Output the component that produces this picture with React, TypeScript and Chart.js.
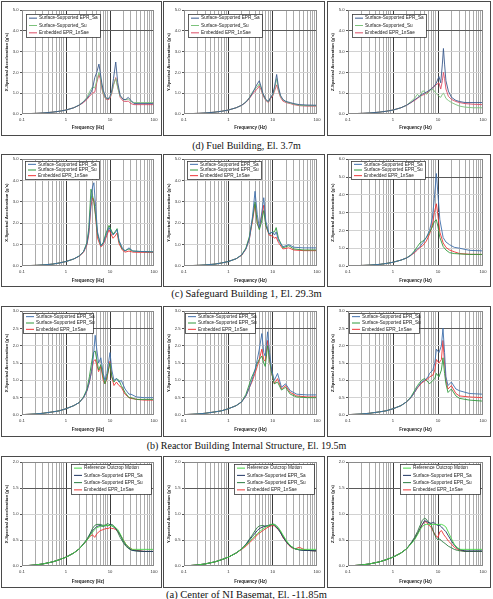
import React, { useEffect, useRef } from 'react';
import { Chart, registerables } from 'chart.js';

Chart.register(...registerables);

const FONT = '"Liberation Sans", Arial, Helvetica, sans-serif';

// ---------- axis ticks ----------
const X_TICKS = [0.1, 0.2, 0.3, 0.4, 0.5, 0.6, 0.7, 0.8, 0.9, 1, 2, 3, 4, 5, 6, 7, 8, 9, 10, 20, 30, 40, 50, 60, 70, 80, 90, 100];
const X_LABELED = [0.1, 1, 10, 100];

// ---------- legend labels ----------
const LABELS_D = ['Surface-Supported EPR_Sa', 'Surface-Supported_Su', 'Embedded EPR_1nSae'];
const LABELS_BC = ['Surface-Supported EPR_Sa', 'Surface-Supported EPR_Su', 'Embedded EPR_1nSae'];
const LABELS_A = ['Reference Outcrop Motion', 'Surface-Supported EPR_Sa', 'Surface-Supported EPR_Su', 'Embedded EPR_1nSae'];

const CAPTIONS = [
  '(d) Fuel Building, El. 3.7m',
  '(c) Safeguard Building 1, El. 29.3m',
  '(b) Reactor Building Internal Structure, El. 19.5m',
  '(a) Center of NI Basemat, El. -11.85m',
];

// ---------- (d) Fuel Building ----------
const FUEL_X_FREQ = [0.1, 0.2, 0.3, 0.5, 0.7, 1, 1.5, 2, 2.5, 3, 3.5, 4, 4.5, 5, 5.6, 6, 6.5, 7, 8, 9, 10, 11, 12, 13.5, 15, 17, 20, 23, 26, 30, 35, 50, 100];
const FUEL_X_SA = [0.01, 0.03, 0.05, 0.09, 0.13, 0.19, 0.3, 0.43, 0.58, 0.75, 0.95, 1.2, 1.75, 2.0, 2.4, 2.0, 1.5, 1.15, 0.8, 0.72, 0.85, 1.15, 1.7, 2.5, 1.5, 0.9, 0.7, 0.7, 0.8, 0.65, 0.5, 0.5, 0.5];
const FUEL_X_SU = [0.01, 0.03, 0.05, 0.09, 0.13, 0.19, 0.3, 0.43, 0.6, 0.8, 1.1, 1.3, 1.25, 1.6, 2.0, 1.8, 1.35, 1.0, 0.75, 0.72, 0.8, 1.05, 1.4, 1.7, 1.25, 0.85, 0.7, 0.68, 0.72, 0.6, 0.55, 0.55, 0.55];
const FUEL_X_EMB = [0.01, 0.03, 0.05, 0.09, 0.13, 0.19, 0.3, 0.42, 0.55, 0.7, 0.88, 1.0, 1.05, 1.5, 1.9, 1.7, 1.25, 0.95, 0.72, 0.68, 0.75, 1.0, 1.4, 1.75, 1.3, 0.8, 0.62, 0.6, 0.62, 0.5, 0.45, 0.45, 0.45];

const FUEL_Y_FREQ = [0.1, 0.2, 0.3, 0.5, 0.7, 1, 1.5, 2, 2.5, 3, 3.5, 4, 4.5, 5, 5.5, 6, 7, 8, 9, 10, 11, 12.3, 13.5, 15, 17, 20, 25, 30, 40, 60, 100];
const FUEL_Y_SA = [0.01, 0.03, 0.05, 0.09, 0.13, 0.19, 0.3, 0.42, 0.58, 0.78, 1.0, 1.25, 1.45, 1.6, 1.3, 1.0, 0.7, 0.6, 0.8, 0.95, 1.3, 1.9, 1.3, 0.9, 0.7, 0.6, 0.55, 0.5, 0.45, 0.43, 0.42];
const FUEL_Y_SU = [0.01, 0.03, 0.05, 0.09, 0.13, 0.19, 0.3, 0.42, 0.58, 0.8, 1.05, 1.2, 1.3, 1.45, 1.25, 0.95, 0.68, 0.58, 0.8, 0.9, 1.2, 1.7, 1.2, 0.85, 0.68, 0.58, 0.52, 0.48, 0.42, 0.4, 0.4];
const FUEL_Y_EMB = [0.01, 0.03, 0.05, 0.09, 0.13, 0.19, 0.3, 0.42, 0.56, 0.75, 0.95, 1.1, 1.2, 1.35, 1.15, 0.9, 0.65, 0.55, 0.75, 0.85, 1.1, 1.4, 1.1, 0.8, 0.62, 0.55, 0.5, 0.45, 0.4, 0.38, 0.38];

const FUEL_Z_FREQ = [0.1, 0.2, 0.3, 0.5, 0.7, 1, 1.5, 2, 2.5, 3, 3.5, 4, 4.5, 5, 5.5, 6, 7, 8, 9, 10.5, 11.5, 12.5, 13.2, 14, 15, 17, 20, 25, 30, 40, 60, 100];
const FUEL_Z_SA = [0.01, 0.03, 0.05, 0.09, 0.13, 0.19, 0.3, 0.42, 0.55, 0.68, 0.78, 0.88, 0.95, 1.0, 1.05, 1.1, 1.2, 1.3, 1.45, 1.8, 1.5, 2.4, 3.15, 2.4, 1.6, 1.1, 0.8, 0.65, 0.6, 0.55, 0.55, 0.55];
const FUEL_Z_SU = [0.01, 0.03, 0.05, 0.09, 0.13, 0.19, 0.3, 0.42, 0.6, 0.75, 0.95, 0.8, 1.1, 1.1, 0.95, 1.0, 1.2, 1.15, 1.0, 0.85, 0.8, 0.95, 1.0, 0.9, 0.75, 0.65, 0.55, 0.45, 0.38, 0.33, 0.3, 0.3];
const FUEL_Z_EMB = [0.01, 0.03, 0.05, 0.09, 0.13, 0.19, 0.3, 0.42, 0.55, 0.65, 0.75, 0.85, 0.9, 0.95, 1.0, 1.05, 1.2, 1.3, 1.4, 1.5, 1.2, 1.6, 2.0, 1.7, 1.2, 0.85, 0.7, 0.6, 0.55, 0.5, 0.47, 0.45];

// ---------- (c) Safeguard Building 1 ----------
const SAFE_X_FREQ = [0.1, 0.2, 0.3, 0.5, 0.7, 1, 1.5, 2, 2.5, 3, 3.3, 3.7, 4.0, 4.3, 4.7, 5.2, 6.2, 7, 8, 9.5, 11.7, 13, 14.5, 16, 19, 22, 27, 33, 50, 100];
const SAFE_X_SA = [0.01, 0.03, 0.05, 0.09, 0.14, 0.21, 0.33, 0.47, 0.66, 1.05, 1.6, 3.0, 3.7, 3.9, 2.8, 1.6, 0.95, 1.05, 1.4, 1.8, 1.45, 1.55, 1.7, 1.2, 0.85, 0.7, 0.85, 0.7, 0.68, 0.66];
const SAFE_X_SU = [0.01, 0.03, 0.05, 0.09, 0.14, 0.21, 0.33, 0.47, 0.68, 1.1, 1.8, 3.6, 3.3, 3.0, 2.4, 1.5, 0.95, 1.1, 1.5, 1.9, 1.5, 1.6, 1.75, 1.15, 0.8, 0.72, 0.8, 0.7, 0.68, 0.66];
const SAFE_X_EMB = [0.01, 0.03, 0.05, 0.09, 0.14, 0.21, 0.33, 0.46, 0.64, 1.0, 1.5, 2.8, 3.2, 3.1, 2.3, 1.3, 0.9, 1.0, 1.3, 1.7, 1.3, 1.4, 1.55, 1.05, 0.75, 0.65, 0.7, 0.65, 0.64, 0.64];

const SAFE_Y_FREQ = [0.1, 0.2, 0.3, 0.5, 0.7, 1, 1.5, 2, 2.5, 3, 3.5, 4, 4.5, 5, 5.5, 6.3, 7, 8.3, 10, 11, 12, 13.5, 17, 23, 30, 50, 100];
const SAFE_Y_SA = [0.01, 0.03, 0.05, 0.09, 0.14, 0.21, 0.34, 0.52, 0.8, 1.3, 2.3, 3.5, 2.4, 1.8, 2.3, 3.2, 2.1, 1.5, 1.6, 1.45, 1.6, 1.2, 0.9, 1.0, 0.88, 0.85, 0.85];
const SAFE_Y_SU = [0.01, 0.03, 0.05, 0.09, 0.14, 0.21, 0.34, 0.52, 0.85, 1.4, 2.2, 3.0, 2.0, 1.7, 2.0, 2.6, 1.9, 1.5, 1.6, 1.6, 1.8, 1.3, 0.85, 0.95, 0.8, 0.75, 0.75];
const SAFE_Y_EMB = [0.01, 0.03, 0.05, 0.09, 0.14, 0.21, 0.34, 0.5, 0.8, 1.3, 2.1, 2.9, 2.0, 1.75, 2.2, 2.85, 1.9, 1.45, 1.4, 1.3, 1.35, 1.1, 0.8, 0.85, 0.75, 0.72, 0.72];

const SAFE_Z_FREQ = [0.1, 0.2, 0.3, 0.5, 0.7, 1, 1.5, 2, 2.5, 3, 3.5, 4, 4.6, 5.5, 6.5, 7.5, 8.3, 9.2, 10, 11, 13, 15, 18, 23, 30, 50, 100];
const SAFE_Z_SA = [0.01, 0.03, 0.05, 0.09, 0.14, 0.21, 0.33, 0.45, 0.6, 0.8, 0.95, 1.1, 1.3, 1.6, 2.0, 2.7, 3.8, 5.2, 4.0, 2.6, 1.6, 1.35, 1.2, 1.05, 1.0, 0.88, 0.85];
const SAFE_Z_SU = [0.01, 0.03, 0.05, 0.09, 0.14, 0.21, 0.33, 0.45, 0.62, 0.85, 1.1, 1.3, 1.4, 1.6, 1.9, 2.2, 2.5, 2.6, 2.2, 1.6, 1.1, 0.9, 0.75, 0.7, 0.68, 0.65, 0.65];
const SAFE_Z_EMB = [0.01, 0.03, 0.05, 0.09, 0.14, 0.21, 0.33, 0.45, 0.6, 0.75, 0.9, 1.05, 1.15, 1.4, 1.8, 2.3, 3.0, 3.5, 2.8, 1.9, 1.3, 1.05, 0.9, 0.8, 0.7, 0.66, 0.65];

// ---------- (b) Reactor Building Internal Structure ----------
const RIS_X_FREQ = [0.1, 0.2, 0.3, 0.5, 0.7, 1, 1.5, 2, 2.5, 3, 3.4, 3.8, 4.2, 4.6, 5, 5.5, 6.2, 7, 7.7, 8.5, 10, 11, 12.3, 14, 16, 18, 22, 27, 30, 40, 60, 100];
const RIS_X_SA = [0.01, 0.03, 0.05, 0.09, 0.12, 0.18, 0.27, 0.36, 0.5, 0.7, 0.95, 1.25, 1.7, 2.3, 1.9, 1.5, 1.65, 1.2, 1.0, 1.2, 1.8, 1.3, 1.0, 1.05, 0.95, 1.0, 0.75, 0.6, 0.6, 0.52, 0.5, 0.5];
const RIS_X_SU = [0.01, 0.03, 0.05, 0.09, 0.12, 0.18, 0.27, 0.36, 0.52, 0.75, 1.1, 1.5, 1.8, 1.85, 1.6, 1.3, 1.45, 1.1, 0.9, 1.1, 1.5, 1.1, 0.95, 1.05, 1.0, 0.85, 0.65, 0.5, 0.5, 0.45, 0.45, 0.45];
const RIS_X_EMB = [0.01, 0.03, 0.05, 0.09, 0.12, 0.18, 0.27, 0.36, 0.5, 0.7, 0.95, 1.25, 1.55, 1.6, 1.45, 1.25, 1.4, 1.0, 0.9, 1.05, 1.55, 1.1, 0.85, 0.95, 0.85, 0.8, 0.6, 0.5, 0.48, 0.45, 0.43, 0.43];

const RIS_Y_FREQ = [0.1, 0.2, 0.3, 0.5, 0.7, 1, 1.5, 2, 2.5, 3, 3.4, 4, 4.5, 5, 5.7, 6.3, 6.8, 7.7, 8.5, 9.5, 10.9, 12.9, 15.8, 19.5, 25, 35, 60, 100];
const RIS_Y_SA = [0.01, 0.03, 0.05, 0.09, 0.12, 0.18, 0.27, 0.38, 0.55, 0.8, 1.0, 1.3, 1.6, 1.9, 2.35, 1.8, 1.7, 2.4, 1.8, 1.3, 1.0, 1.2, 0.8, 0.9, 0.7, 0.6, 0.58, 0.58];
const RIS_Y_SU = [0.01, 0.03, 0.05, 0.09, 0.12, 0.18, 0.27, 0.38, 0.6, 0.9, 1.1, 1.3, 1.5, 1.6, 1.7, 1.5, 1.4, 2.0, 1.6, 1.2, 0.9, 0.95, 0.72, 0.8, 0.6, 0.52, 0.5, 0.5];
const RIS_Y_EMB = [0.01, 0.03, 0.05, 0.09, 0.12, 0.18, 0.27, 0.38, 0.55, 0.8, 0.95, 1.2, 1.4, 1.6, 1.9, 1.6, 1.55, 2.15, 1.6, 1.2, 0.9, 1.05, 0.75, 0.85, 0.65, 0.55, 0.52, 0.52];

const RIS_Z_FREQ = [0.1, 0.2, 0.3, 0.5, 0.7, 1, 1.5, 2, 2.5, 3, 3.5, 4.3, 5, 6, 6.5, 7.7, 8.5, 9.2, 10.5, 11.9, 12.9, 14, 15, 16.7, 19.8, 25, 30, 50, 100];
const RIS_Z_SA = [0.01, 0.03, 0.05, 0.09, 0.12, 0.18, 0.27, 0.38, 0.5, 0.65, 0.8, 0.95, 1.0, 1.1, 1.2, 1.3, 1.5, 1.9, 1.8, 2.0, 2.5, 1.8, 1.1, 0.85, 0.95, 0.75, 0.7, 0.62, 0.6];
const RIS_Z_SU = [0.01, 0.03, 0.05, 0.09, 0.12, 0.18, 0.27, 0.38, 0.52, 0.7, 0.85, 1.0, 1.05, 0.95, 0.9, 1.0, 1.05, 1.2, 1.1, 1.3, 1.65, 1.2, 0.9, 0.65, 0.75, 0.55, 0.48, 0.43, 0.4];
const RIS_Z_EMB = [0.01, 0.03, 0.05, 0.09, 0.12, 0.18, 0.27, 0.38, 0.5, 0.65, 0.78, 0.92, 0.98, 1.05, 1.1, 1.15, 1.3, 1.6, 1.5, 1.6, 2.15, 1.5, 1.0, 0.75, 0.85, 0.62, 0.55, 0.52, 0.5];

// ---------- (a) Center of NI Basemat ----------
const BASE_X_FREQ = [0.1, 0.2, 0.3, 0.5, 0.7, 1, 1.5, 2, 2.5, 3, 3.5, 4, 4.5, 5, 6, 7, 8, 9, 10, 11, 12, 13.5, 15, 17, 20, 23, 27, 32, 40, 60, 100];
const BASE_X_REF = [0.0, 0.02, 0.04, 0.08, 0.12, 0.17, 0.25, 0.33, 0.42, 0.5, 0.58, 0.65, 0.7, 0.74, 0.76, 0.77, 0.78, 0.78, 0.78, 0.77, 0.76, 0.74, 0.7, 0.62, 0.5, 0.42, 0.36, 0.32, 0.32, 0.32, 0.32];
const BASE_X_SA = [0.0, 0.02, 0.04, 0.08, 0.12, 0.17, 0.25, 0.33, 0.42, 0.5, 0.6, 0.68, 0.72, 0.76, 0.78, 0.76, 0.78, 0.77, 0.8, 0.78, 0.75, 0.72, 0.68, 0.6, 0.48, 0.4, 0.34, 0.3, 0.29, 0.28, 0.28];
const BASE_X_SU = [0.0, 0.02, 0.04, 0.08, 0.12, 0.17, 0.25, 0.33, 0.43, 0.52, 0.62, 0.72, 0.78, 0.8, 0.8, 0.78, 0.79, 0.82, 0.78, 0.8, 0.78, 0.72, 0.65, 0.55, 0.45, 0.38, 0.33, 0.3, 0.29, 0.28, 0.28];
const BASE_X_EMB = [0.0, 0.02, 0.04, 0.08, 0.12, 0.17, 0.25, 0.33, 0.42, 0.5, 0.57, 0.6, 0.55, 0.62, 0.68, 0.7, 0.72, 0.72, 0.74, 0.72, 0.72, 0.7, 0.66, 0.6, 0.5, 0.42, 0.36, 0.32, 0.3, 0.28, 0.28];

const BASE_Y_FREQ = [0.1, 0.2, 0.3, 0.5, 0.7, 1, 1.5, 2, 2.5, 3, 3.5, 4, 4.5, 5, 6, 7, 8, 9, 10, 11, 12, 13.5, 15, 17, 20, 23, 27, 32, 40, 50, 60, 100];
const BASE_Y_REF = [0.0, 0.02, 0.04, 0.08, 0.12, 0.17, 0.25, 0.33, 0.4, 0.47, 0.53, 0.58, 0.62, 0.66, 0.71, 0.75, 0.78, 0.8, 0.8, 0.79, 0.77, 0.73, 0.68, 0.6, 0.5, 0.43, 0.37, 0.33, 0.32, 0.32, 0.32, 0.32];
const BASE_Y_SA = [0.0, 0.02, 0.04, 0.08, 0.12, 0.17, 0.25, 0.33, 0.41, 0.5, 0.57, 0.63, 0.68, 0.72, 0.75, 0.77, 0.78, 0.79, 0.8, 0.78, 0.75, 0.7, 0.64, 0.56, 0.47, 0.41, 0.36, 0.33, 0.31, 0.3, 0.3, 0.29];
const BASE_Y_SU = [0.0, 0.02, 0.04, 0.08, 0.12, 0.17, 0.25, 0.33, 0.42, 0.52, 0.6, 0.68, 0.74, 0.77, 0.78, 0.76, 0.77, 0.79, 0.81, 0.8, 0.78, 0.73, 0.66, 0.58, 0.48, 0.42, 0.37, 0.33, 0.31, 0.3, 0.3, 0.29];
const BASE_Y_EMB = [0.0, 0.02, 0.04, 0.08, 0.12, 0.17, 0.25, 0.32, 0.38, 0.45, 0.5, 0.55, 0.6, 0.63, 0.68, 0.72, 0.75, 0.77, 0.78, 0.77, 0.74, 0.7, 0.65, 0.55, 0.47, 0.4, 0.35, 0.33, 0.36, 0.32, 0.3, 0.29];

const BASE_Z_FREQ = [0.1, 0.2, 0.3, 0.5, 0.7, 1, 1.5, 2, 2.5, 3, 3.5, 4, 4.5, 5, 5.5, 6, 7, 8, 9, 10, 11, 12, 13.5, 15, 17, 20, 23, 27, 32, 40, 60, 100];
const BASE_Z_REF = [0.0, 0.02, 0.04, 0.08, 0.12, 0.17, 0.25, 0.33, 0.42, 0.5, 0.6, 0.7, 0.76, 0.79, 0.8, 0.8, 0.8, 0.8, 0.8, 0.8, 0.8, 0.8, 0.78, 0.75, 0.65, 0.52, 0.42, 0.35, 0.32, 0.32, 0.32, 0.32];
const BASE_Z_SA = [0.0, 0.02, 0.04, 0.08, 0.12, 0.17, 0.25, 0.33, 0.43, 0.52, 0.62, 0.72, 0.8, 0.87, 0.86, 0.84, 0.82, 0.84, 0.8, 0.78, 0.78, 0.75, 0.7, 0.66, 0.58, 0.48, 0.4, 0.34, 0.31, 0.29, 0.29, 0.29];
const BASE_Z_SU = [0.0, 0.02, 0.04, 0.08, 0.12, 0.17, 0.25, 0.33, 0.44, 0.55, 0.66, 0.78, 0.88, 0.92, 0.9, 0.85, 0.8, 0.65, 0.55, 0.5, 0.52, 0.48, 0.45, 0.42, 0.38, 0.35, 0.32, 0.3, 0.29, 0.28, 0.28, 0.28];
const BASE_Z_EMB = [0.0, 0.02, 0.04, 0.08, 0.12, 0.17, 0.25, 0.33, 0.43, 0.52, 0.62, 0.72, 0.8, 0.85, 0.85, 0.8, 0.75, 0.65, 0.58, 0.55, 0.66, 0.68, 0.6, 0.55, 0.48, 0.42, 0.36, 0.32, 0.3, 0.28, 0.28, 0.28];

// ---------- colours ----------
const C_D = ['#3b5a8c', '#7cc27c', '#dc4d66'];
const C_BC = ['#3f6fab', '#2e9a3c', '#ee3535'];
const C_A = ['#46d846', '#1f3563', '#2a7c40', '#ee3535'];

// ---------- layout ----------
const ROWS = [
  { top: 1, h: 135, inTop: 9, inBot: 22, titleGap: 14, capY: 146, capSize: 10, legend: { side: 'left', dx: 4, dy: 4, w: 74, h: 23 } },
  { top: 154, h: 133, inTop: 5.3, inBot: 21, titleGap: 14.5, capY: 294.5, capSize: 10.5, legend: { side: 'left', dx: 3, dy: 2, w: 74, h: 18 } },
  { top: 306, h: 131, inTop: 4, inBot: 22, titleGap: 14.3, capY: 445.5, capSize: 10, legend: { side: 'left', dx: 1, dy: 2, w: 70, h: 20 } },
  { top: 456, h: 132, inTop: 6, inBot: 22, titleGap: 15.5, capY: 595, capSize: 10.5, legend: { side: 'right', dx: 3, dy: 1.5, w: 80, h: 30 } },
];
const COLS = [
  { left: 1, w: 161, inL: 21, inR: 6 },
  { left: 163, w: 162, inL: 21, inR: 6 },
  { left: 327, w: 164, inL: 21, inR: 8 },
];

type Series = { label: string; color: string; values: number[] };
type Panel = { freq: number[]; series: Series[]; yMax: number; yStep: number; dark: number | null; axis: string };

const mk = (labels: string[], colors: string[], vals: number[][]): Series[] =>
  labels.map((label, i) => ({ label, color: colors[i], values: vals[i] }));

const PANELS: Panel[][] = [
  [
    { freq: FUEL_X_FREQ, series: mk(LABELS_D, C_D, [FUEL_X_SA, FUEL_X_SU, FUEL_X_EMB]), yMax: 5, yStep: 1, dark: 4, axis: 'X' },
    { freq: FUEL_Y_FREQ, series: mk(LABELS_D, C_D, [FUEL_Y_SA, FUEL_Y_SU, FUEL_Y_EMB]), yMax: 5, yStep: 1, dark: 4, axis: 'Y' },
    { freq: FUEL_Z_FREQ, series: mk(LABELS_D, C_D, [FUEL_Z_SA, FUEL_Z_SU, FUEL_Z_EMB]), yMax: 5, yStep: 1, dark: 4, axis: 'Z' },
  ],
  [
    { freq: SAFE_X_FREQ, series: mk(LABELS_BC, C_BC, [SAFE_X_SA, SAFE_X_SU, SAFE_X_EMB]), yMax: 5, yStep: 1, dark: null, axis: 'X' },
    { freq: SAFE_Y_FREQ, series: mk(LABELS_BC, C_BC, [SAFE_Y_SA, SAFE_Y_SU, SAFE_Y_EMB]), yMax: 5, yStep: 1, dark: null, axis: 'Y' },
    { freq: SAFE_Z_FREQ, series: mk(LABELS_BC, C_BC, [SAFE_Z_SA, SAFE_Z_SU, SAFE_Z_EMB]), yMax: 6, yStep: 1, dark: 5, axis: 'Z' },
  ],
  [
    { freq: RIS_X_FREQ, series: mk(LABELS_BC, C_BC, [RIS_X_SA, RIS_X_SU, RIS_X_EMB]), yMax: 3, yStep: 0.5, dark: 2.5, axis: 'X' },
    { freq: RIS_Y_FREQ, series: mk(LABELS_BC, C_BC, [RIS_Y_SA, RIS_Y_SU, RIS_Y_EMB]), yMax: 3, yStep: 0.5, dark: 2.5, axis: 'Y' },
    { freq: RIS_Z_FREQ, series: mk(LABELS_BC, C_BC, [RIS_Z_SA, RIS_Z_SU, RIS_Z_EMB]), yMax: 3, yStep: 0.5, dark: 2.5, axis: 'Z' },
  ],
  [
    { freq: BASE_X_FREQ, series: mk(LABELS_A, C_A, [BASE_X_REF, BASE_X_SA, BASE_X_SU, BASE_X_EMB]), yMax: 2, yStep: 0.5, dark: 1.5, axis: 'X' },
    { freq: BASE_Y_FREQ, series: mk(LABELS_A, C_A, [BASE_Y_REF, BASE_Y_SA, BASE_Y_SU, BASE_Y_EMB]), yMax: 2, yStep: 0.5, dark: 1.5, axis: 'Y' },
    { freq: BASE_Z_FREQ, series: mk(LABELS_A, C_A, [BASE_Z_REF, BASE_Z_SA, BASE_Z_SU, BASE_Z_EMB]), yMax: 2, yStep: 0.5, dark: 1.5, axis: 'Z' },
  ],
];

// frame + boxed legend inside the plot area
const framePlugin = {
  id: 'panelFrame',
  afterDatasetsDraw(chart: any, _args: any, opts: any) {
    const { ctx, chartArea: ca } = chart;
    ctx.save();
    ctx.strokeStyle = '#8a8a8a';
    ctx.lineWidth = 1;
    ctx.strokeRect(Math.round(ca.left) + 0.5, Math.round(ca.top) + 0.5, Math.round(ca.right - ca.left) - 1, Math.round(ca.bottom - ca.top) - 1);

    const lg = opts.legend;
    if (lg) {
      const ds = chart.data.datasets;
      const x = Math.round(lg.side === 'right' ? ca.right - lg.dx - lg.w : ca.left + lg.dx);
      const y = Math.round(ca.top + lg.dy);
      ctx.fillStyle = '#ffffff';
      ctx.fillRect(x, y, lg.w, lg.h);
      ctx.strokeStyle = '#3a3a3a';
      ctx.lineWidth = 0.8;
      ctx.strokeRect(x + 0.5, y + 0.5, lg.w, lg.h);
      ctx.font = `4.7px ${FONT}`;
      ctx.textBaseline = 'middle';
      ctx.textAlign = 'left';
      const step = (lg.h - 1) / ds.length;
      ds.forEach((d: any, i: number) => {
        const cy = y + 0.5 + step * (i + 0.5);
        ctx.strokeStyle = d.borderColor;
        ctx.lineWidth = 1;
        ctx.beginPath();
        ctx.moveTo(x + 3, cy);
        ctx.lineTo(x + 11, cy);
        ctx.stroke();
        ctx.fillStyle = '#222';
        ctx.fillText(d.label, x + 13, cy);
      });
    }
    ctx.restore();
  },
};

function PanelChart({ panel, r, c }: { panel: Panel; r: number; c: number }) {
  const ref = useRef<HTMLCanvasElement>(null);
  const row = ROWS[r];
  const col = COLS[c];
  const cw = col.w - 2;
  const ch = row.h - 2;

  useEffect(() => {
    const xTitleSize = 4.5;
    const xTitlePad = row.inBot - 1 - row.titleGap - (xTitleSize * 1.2) / 2;
    const chart = new Chart(ref.current as HTMLCanvasElement, {
      type: 'line',
      data: {
        datasets: panel.series.map((s) => ({
          label: s.label,
          data: panel.freq.map((f, i) => ({ x: f, y: s.values[i] })),
          borderColor: s.color,
          backgroundColor: s.color,
          borderWidth: 0.9,
          pointRadius: 0,
          tension: 0,
          fill: false,
        })),
      },
      options: {
        responsive: false,
        animation: false,
        devicePixelRatio: 1,
        layout: { padding: { top: row.inTop - 1, right: col.inR - 1, left: 0, bottom: 0 } },
        plugins: {
          legend: { display: false },
          tooltip: { enabled: false },
          panelFrame: { legend: row.legend },
        } as any,
        scales: {
          x: {
            type: 'logarithmic',
            min: 0.1,
            max: 100,
            afterBuildTicks: (s: any) => {
              s.ticks = X_TICKS.map((v) => ({ value: v }));
            },
            afterFit: (s: any) => {
              s.height = row.inBot - 1;
            },
            ticks: {
              autoSkip: false,
              maxRotation: 0,
              minRotation: 0,
              padding: 3.5,
              color: '#333',
              font: { size: 4.2, family: FONT },
              callback: (v: any) => (X_LABELED.includes(Number(v)) ? String(v) : ''),
            },
            grid: {
              drawTicks: false,
              lineWidth: 1,
              color: (ctx: any) => {
                const v = ctx.tick ? ctx.tick.value : null;
                if (v === 0.1 || v === 100) return 'rgba(0,0,0,0)';
                if (v === 1 || v === 10) return '#3c3c3c';
                return '#ababab';
              },
            },
            border: { display: false },
            title: {
              display: true,
              text: 'Frequency (Hz)',
              color: '#222',
              font: { size: xTitleSize, family: FONT, weight: 'bold' },
              padding: { top: 0, bottom: xTitlePad },
            },
          },
          y: {
            type: 'linear',
            min: 0,
            max: panel.yMax,
            afterFit: (s: any) => {
              s.width = col.inL - 1;
            },
            ticks: {
              stepSize: panel.yStep,
              padding: 1.5,
              color: '#333',
              font: { size: 4.2, family: FONT },
              callback: (v: any) => Number(v).toFixed(1),
            },
            grid: {
              drawTicks: true,
              tickLength: 2,
              tickColor: '#555',
              lineWidth: 1,
              color: (ctx: any) => {
                const v = ctx.tick ? ctx.tick.value : null;
                if (v === 0 || v === panel.yMax) return 'rgba(0,0,0,0)';
                if (panel.dark !== null && Math.abs(v - panel.dark) < 1e-9) return '#5a5a5a';
                return '#d2d2d2';
              },
            },
            border: { display: false },
            title: {
              display: true,
              text: `${panel.axis}-Spectral Acceleration (g's)`,
              color: '#222',
              font: { size: 4.3, family: FONT, weight: 'bold' },
              padding: { top: 2.6, bottom: 0 },
            },
          },
        },
      } as any,
      plugins: [framePlugin],
    });
    return () => chart.destroy();
  }, []);

  return (
    <div
      style={{
        position: 'absolute',
        left: col.left,
        top: row.top,
        width: col.w,
        height: row.h,
        border: '1px solid #4a4a4a',
        boxSizing: 'border-box',
        background: '#fff',
      }}
    >
      <canvas ref={ref} width={cw} height={ch} style={{ display: 'block', width: cw, height: ch }} />
    </div>
  );
}

export default function App() {
  return (
    <div style={{ position: 'fixed', left: 0, top: 0, width: 493, height: 599, background: '#fff', overflow: 'hidden' }}>
      {PANELS.map((rowPanels, r) =>
        rowPanels.map((p, c) => <PanelChart key={`${r}-${c}`} panel={p} r={r} c={c} />)
      )}
      {CAPTIONS.map((t, r) => (
        <div
          key={t}
          style={{
            position: 'absolute',
            left: 0,
            width: 493,
            top: ROWS[r].capY - ROWS[r].capSize * 0.6,
            height: ROWS[r].capSize * 1.2,
            lineHeight: `${ROWS[r].capSize * 1.2}px`,
            textAlign: 'center',
            fontFamily: '"Liberation Serif", "Times New Roman", serif',
            fontSize: ROWS[r].capSize,
            color: '#111',
            whiteSpace: 'nowrap',
          }}
        >
          {t}
        </div>
      ))}
    </div>
  );
}
